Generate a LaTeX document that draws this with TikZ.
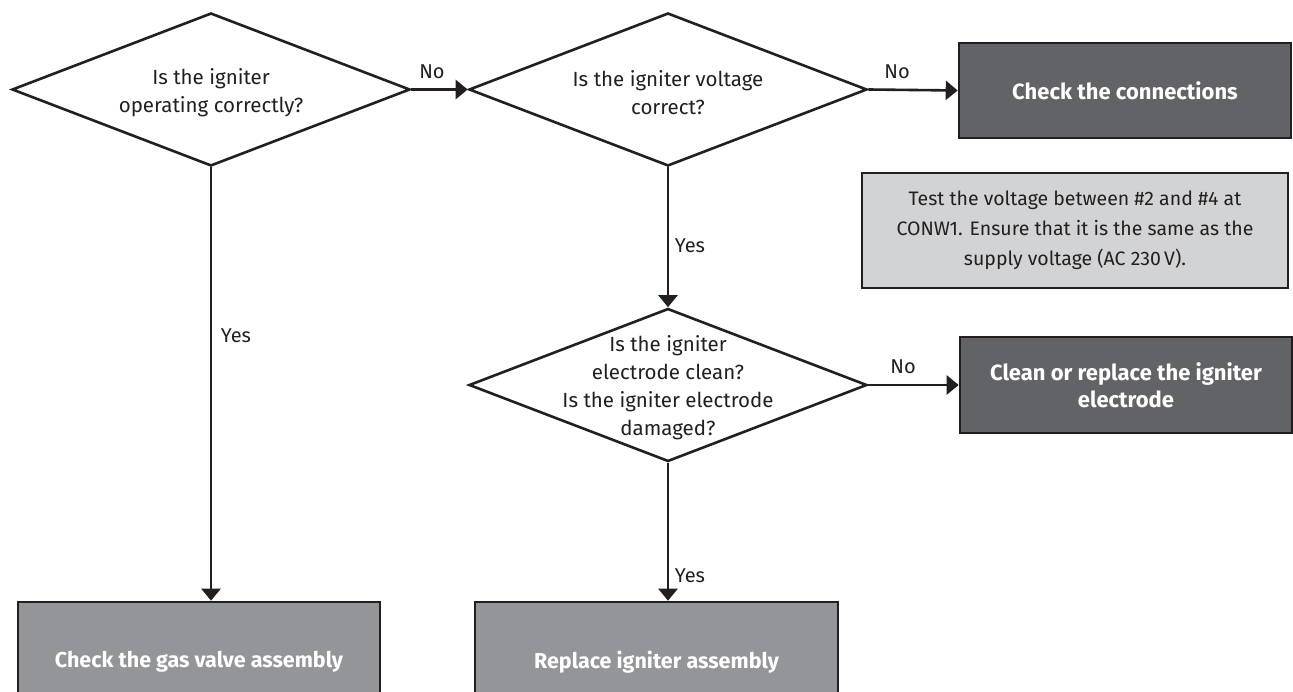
\documentclass[tikz,border=0pt]{standalone}
\usepackage{fontspec}
\setmainfont{Fira Sans}
\usetikzlibrary{shapes.geometric,arrows.meta}
\definecolor{linec}{HTML}{231F20}
\definecolor{darkg}{HTML}{626366}
\definecolor{midg}{HTML}{939598}
\definecolor{lightg}{HTML}{D1D3D4}
\begin{document}
\begin{tikzpicture}[x=1pt,y=-1pt,
  dia/.style={diamond,draw=linec,line width=2.6pt,minimum width=398pt,minimum height=153pt,inner sep=0pt},
  dtext/.style={align=center,text=linec,font=\fontsize{20.5}{28}\selectfont,inner sep=0pt},
  darkbox/.style={draw=linec,fill=darkg,line width=2.6pt,text=white,align=center,inner sep=0pt,
    font=\bfseries\fontsize{22}{27}\selectfont},
  midbox/.style={draw=linec,fill=midg,line width=2.6pt,text=white,align=center,inner sep=0pt,
    font=\bfseries\fontsize{21.5}{27}\selectfont},
  lightbox/.style={draw=linec,fill=lightg,line width=2.6pt,text=linec,align=center,inner sep=0pt,
    font=\fontsize{19.5}{30}\selectfont},
  lbl/.style={text=linec,font=\fontsize{20}{24}\selectfont,inner sep=0pt},
  arr/.style={draw=linec,line width=2.6pt,-{Triangle[length=12pt,width=19pt]}}
]
\useasboundingbox (0,0) rectangle (1293,692);
\clip (0,0) rectangle (1293,692);
\fill[white] (0,0) rectangle (1293,692);

\node[dia] (d1) at (211,89.5) {};
\node[dtext] (t1) at (211,93) {Is the igniter\\operating correctly?};
\node[dia] (d2) at (668,89.5) {};
\node[dtext] (t2) at (668,93) {Is the igniter voltage\\correct?};
\node[dia] (d3) at (668,385) {};
\node[dtext] (t3) at (668,388) {Is the igniter\\electrode clean?\\Is the igniter electrode\\damaged?};

\node[darkbox,minimum width=332pt,minimum height=95pt] (b1) at (1125,90.5) {Check the connections};
\node[lightbox,minimum width=426pt,minimum height=115pt] (b2) at (1075,230.5) {Test the voltage between \#2 and \#4 at\\CONW1. Ensure that it is the same as the\\supply voltage (AC 230\,V).};
\node[darkbox,minimum width=332pt,minimum height=96pt] (b3) at (1126,385) {Clean or replace the igniter\\electrode};
\node[midbox,minimum width=362pt,minimum height=120pt] (b4) at (199,662) {Check the gas valve assembly};
\node[midbox,minimum width=363pt,minimum height=120pt] (b5) at (656.5,662) {Replace igniter assembly};

\draw[arr] (d1.east) -- (d2.west);
\draw[arr] (d2.east) -- (b1.west);
\draw[arr] (d2.south) -- (d3.north);
\draw[arr] (d3.east) -- (b3.west);
\draw[arr] (d1.south) -- (d1.south |- b4.north);
\draw[arr] (d3.south) -- (d3.south |- b5.north);

\node[lbl] (n1) at (432,72) {No};
\node[lbl] (n2) at (897,72) {No};
\node[lbl] (n3) at (903,367) {No};
\node[lbl] (y1) at (236,336) {Yes};
\node[lbl] (y2) at (690,246) {Yes};
\node[lbl] (y3) at (690,576) {Yes};
\end{tikzpicture}
\end{document}
